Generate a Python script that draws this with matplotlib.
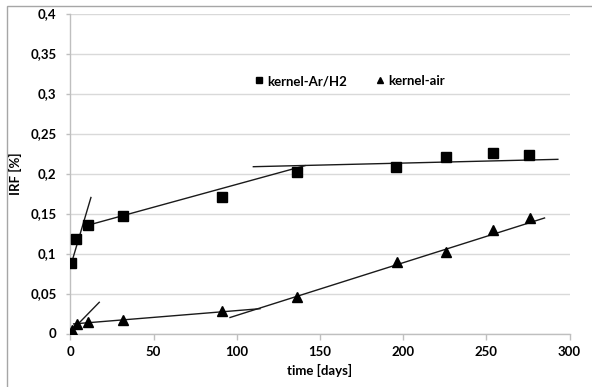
import matplotlib
matplotlib.use("Agg")
import matplotlib.pyplot as plt
from matplotlib.patches import Rectangle

# measured release fractions
days_arh2 = [0.6, 3.4, 10.6, 31.4, 91.4, 136.2, 195.6, 226, 253.8, 275.8]
irf_arh2 = [0.088, 0.118, 0.136, 0.1465, 0.171, 0.202, 0.2077, 0.2202, 0.2252, 0.2227]

days_air = [1, 3.8, 10.6, 31.8, 91.2, 136.4, 196.2, 225.8, 253.8, 276]
irf_air = [0.005, 0.012, 0.0148, 0.0165, 0.0285, 0.046, 0.0898, 0.1015, 0.130, 0.145]

# trend segments (start/end x, start/end y)
trend_arh2_x = [(0, 12.4), (10, 141), (110, 293)]
trend_arh2_y = [(0.083, 0.170), (0.135, 0.2098), (0.2085, 0.2177)]
trend_air_x = [(0.5, 17.4), (2, 114), (96, 285)]
trend_air_y = [(0.003, 0.039), (0.012, 0.031), (0.020, 0.1444)]

x_ticks = [0, 50, 100, 150, 200, 250, 300]
y_ticks = [0, 0.05, 0.1, 0.15, 0.2, 0.25, 0.3, 0.35, 0.4]
y_labels = ["0", "0,05", "0,1", "0,15", "0,2", "0,25", "0,3", "0,35", "0,4"]

plt.rcParams["font.family"] = ["Lato", "DejaVu Sans"]
plt.rcParams["font.weight"] = "bold"
FS = 9.5

W, H = 592, 387
fig = plt.figure(figsize=(W / 100, H / 100), dpi=100)
ax = fig.add_axes([70.3 / W, (H - 333.5) / H, 499.2 / W, 320 / H])

# outer chart frame
fig.patches.append(Rectangle((7 / W, -0.1), 1.2, (H - 6) / H + 0.1,
                             transform=fig.transFigure, fill=False,
                             edgecolor="#a6a6a6", linewidth=1.0))

ax.plot(days_arh2, irf_arh2, linestyle="none", marker="s", markersize=6.5,
        color="black", label="kernel-Ar/H2", zorder=3)
ax.plot(days_air, irf_air, linestyle="none", marker="^", markersize=7,
        color="black", label="kernel-air", zorder=3)

for xs, ys in zip(trend_arh2_x + trend_air_x, trend_arh2_y + trend_air_y):
    ax.plot(xs, ys, color="#1a1a1a", linewidth=1.0, zorder=2)

ax.set_xlim(0, 300)
ax.set_ylim(0, 0.4)
ax.set_xticks(x_ticks)
ax.set_yticks(y_ticks)
ax.set_yticklabels(y_labels)
ax.grid(axis="y", color="#d9d9d9", linewidth=1.0)
ax.set_axisbelow(True)

for side in ["top", "right"]:
    ax.spines[side].set_visible(False)
for side in ["left", "bottom"]:
    ax.spines[side].set_color("#bfbfbf")
    ax.spines[side].set_linewidth(1.0)

ax.tick_params(axis="x", colors="#bfbfbf", length=4, width=1.0,
               labelcolor="black", labelsize=FS, pad=5)
ax.tick_params(axis="y", colors="#bfbfbf", length=3, width=1.0,
               labelcolor="black", labelsize=FS, pad=7)
for lbl in ax.get_xticklabels() + ax.get_yticklabels():
    lbl.set_fontweight("bold")

ax.set_xlabel("time [days]", fontsize=FS, fontweight="bold")
ax.xaxis.set_label_coords(0.5, -0.094)
ax.set_ylabel("IRF [%]", fontsize=FS, fontweight="bold")
ax.yaxis.set_label_coords(-0.097, 0.5)

leg = ax.legend(loc="center", bbox_to_anchor=(0.56, 0.789), ncol=2, frameon=False,
                handlelength=0.6, handletextpad=0.3, columnspacing=2.2,
                prop={"weight": "bold", "size": FS})
for h in leg.legend_handles:
    h.set_markersize(5)

fig.savefig("out.png", dpi=100)
